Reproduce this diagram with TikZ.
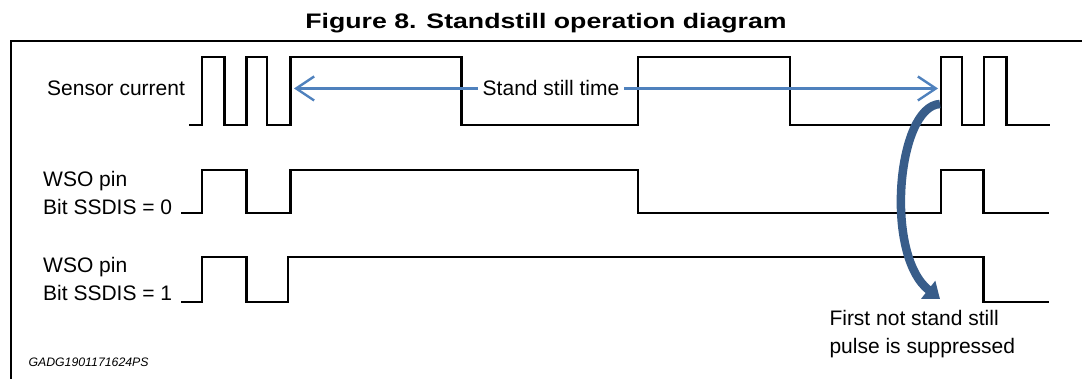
\documentclass[tikz,border=0pt]{standalone}
\usepackage{fontspec}
\setmainfont{Liberation Sans}
\usetikzlibrary{arrows.meta}
\definecolor{timeblue}{RGB}{79,129,189}
\definecolor{suppblue}{RGB}{56,93,138}
\begin{document}
\begin{tikzpicture}[x=1pt,y=-1pt,
  wave/.style={line width=2.4pt,line join=miter},
  lbl/.style={inner sep=0pt,anchor=base west,align=left,font=\fontsize{21}{27.5}\selectfont},
  timearrow/.style={timeblue,line width=2.4pt,-{Straight Barb[length=18pt,width=24pt,line width=2.4pt]}},
  supparrow/.style={suppblue,line width=8.5pt,-{Triangle[length=15pt,width=22pt]}}]
\useasboundingbox (0,0) rectangle (1082,379);
% title and frame
\node[inner sep=0pt,anchor=base,font=\bfseries\fontsize{21}{24}\selectfont] (title) at (546,28.3)
  {\scalebox{1.27}[1]{Figure 8. Standstill operation diagram}};
\draw[line width=2pt] (10.5,379) |- (1082,40.7);
% signal names (base = last line)
\node[lbl] (sens) at (47,96) {Sensor current};
\node[lbl] (wso0) at (43,214.2) {WSO pin\\Bit SSDIS = 0};
\node[lbl] (wso1) at (43,300.5) {WSO pin\\Bit SSDIS = 1};
% waveforms
\draw[wave] (189.3,125) -| (202,57.3) -| (224.5,125) -| (246.6,57.3) -| (267.2,125)
  -| (290.3,57.3) -| (461.4,125) -| (638,57.3) -| (789.7,125) -| (941,57.3)
  -| (962,125) -| (984.2,57.3) -| (1006.6,125) -- (1049.6,125);
\draw[wave] (181,213.3) -| (202,170) -| (246.6,213.3) -| (290.3,170) -| (638,213.3)
  -| (941,170) -| (983.5,213.3) -- (1049,213.3);
\draw[wave] (181,302) -| (202,257.3) -| (246.6,302) -| (288,257.3) -| (983.5,302)
  -- (1049,302);
% stand still time
\node[lbl,anchor=base,inner xsep=5pt] (still) at (551,96) {Stand still time};
\coordinate (ssL) at (294,0);
\coordinate (ssR) at (938,0);
\draw[timearrow] (still.west) -- (still.west -| ssL);
\draw[timearrow] (still.east) -- (still.east -| ssR);
% suppressed pulse
\coordinate (suppA) at (940,104);
\coordinate (suppB) at (940,299);
\draw[supparrow] (suppA) .. controls (897,106) and (884,255) .. (suppB);
\node[lbl] (supp) at (829.3,353.3) {First not stand still\\pulse is suppressed};
\node[inner sep=0pt,anchor=base west,font=\itshape\fontsize{12.3}{14}\selectfont] (code) at (28.3,366.7) {GADG1901171624PS};
\end{tikzpicture}
\end{document}
